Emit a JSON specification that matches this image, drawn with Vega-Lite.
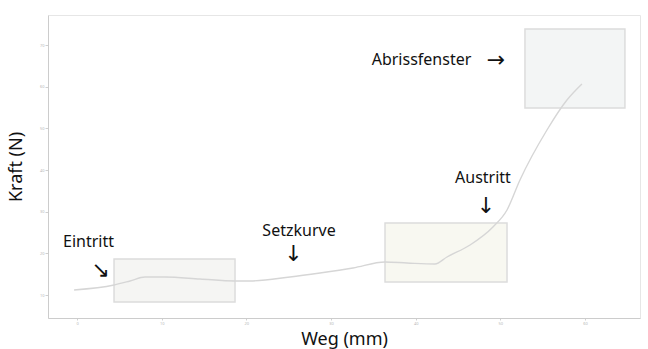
{
  "$schema": "https://vega.github.io/schema/vega-lite/v6.json",
  "width": 592,
  "height": 303,
  "autosize": {"type": "none"},
  "padding": {"left": 48, "top": 15, "right": 8, "bottom": 31},
  "background": "white",
  "config": {
    "view": {"stroke": "#e6e6e6", "strokeWidth": 1},
    "font": "Noto Sans",
    "axis": {"grid": false, "domainColor": "#cccccc", "tickColor": "#d0d0d0", "tickSize": 3, "labelColor": "#b8b8b8", "labelFontSize": 4, "titleFont": "Noto Sans", "titleFontSize": 18, "titleFontWeight": "normal", "titleColor": "#111111"}
  },
  "datasets": {
    "curve": [
      {"weg": -0.35, "kraft": 11.2},
      {"weg": 4.37, "kraft": 12.4},
      {"weg": 6.26, "kraft": 13.36},
      {"weg": 8.03, "kraft": 14.32},
      {"weg": 10.39, "kraft": 14.32},
      {"weg": 14.53, "kraft": 13.84},
      {"weg": 18.66, "kraft": 13.36},
      {"weg": 20.43, "kraft": 13.36},
      {"weg": 25.16, "kraft": 14.32},
      {"weg": 28.7, "kraft": 15.28},
      {"weg": 32.6, "kraft": 16.48},
      {"weg": 36.38, "kraft": 17.92},
      {"weg": 38.98, "kraft": 17.68},
      {"weg": 42.28, "kraft": 17.44},
      {"weg": 43.7, "kraft": 19.12},
      {"weg": 46.42, "kraft": 22.0},
      {"weg": 49.13, "kraft": 26.32},
      {"weg": 50.79, "kraft": 30.4},
      {"weg": 52.32, "kraft": 37.6},
      {"weg": 55.51, "kraft": 49.6},
      {"weg": 57.87, "kraft": 56.8},
      {"weg": 59.64, "kraft": 60.64}
    ],
    "windows": [
      {"name": "Eintritt", "x1": 4.37, "x2": 18.66, "y1": 8.32, "y2": 18.64, "fill": "#f5f5f3"},
      {"name": "Austritt", "x1": 36.38, "x2": 50.79, "y1": 13.12, "y2": 27.28, "fill": "#f8f8f1"},
      {"name": "Abriss", "x1": 52.91, "x2": 64.72, "y1": 54.88, "y2": 73.84, "fill": "#f3f5f5"}
    ],
    "labels": [
      {"text": "Abrissfenster", "x": 40.69, "y": 65.2},
      {"text": "Eintritt", "x": 1.36, "y": 21.59},
      {"text": "Setzkurve", "x": 26.22, "y": 24.23},
      {"text": "Austritt", "x": 47.95, "y": 36.81}
    ],
    "arrows": [
      {"text": "→", "x": 49.49, "y": 66.4},
      {"text": "↘", "x": 2.78, "y": 16.12},
      {"text": "↓", "x": 25.57, "y": 19.84},
      {"text": "↓", "x": 48.31, "y": 31.36}
    ]
  },
  "layer": [
    {
      "data": {"name": "windows"},
      "mark": {"type": "rect", "stroke": "#dcdcdc", "strokeWidth": 1.5},
      "encoding": {
        "x": {"field": "x1", "type": "quantitative", "scale": {"domain": [-3.43, 66.5], "nice": false, "zero": false}, "axis": {"title": "Weg (mm)", "values": [0, 10, 20, 30, 40, 50, 60], "titlePadding": 5, "labelPadding": 1, "tickSize": 2}},
        "x2": {"field": "x2"},
        "y": {"field": "y1", "type": "quantitative", "scale": {"domain": [4.48, 77.2], "nice": false, "zero": false}, "axis": {"title": "Kraft (N)", "values": [10, 20, 30, 40, 50, 60, 70], "titlePadding": 14, "labelPadding": 1}},
        "y2": {"field": "y2"},
        "fill": {"field": "fill", "type": "nominal", "scale": null}
      }
    },
    {
      "data": {"name": "curve"},
      "mark": {"type": "line", "color": "#d6d6d6", "strokeWidth": 1.4, "interpolate": "monotone"},
      "encoding": {
        "x": {"field": "weg", "type": "quantitative"},
        "y": {"field": "kraft", "type": "quantitative"}
      }
    },
    {
      "data": {"name": "labels"},
      "mark": {"type": "text", "fontSize": 16, "color": "#111111", "baseline": "alphabetic", "align": "center"},
      "encoding": {
        "x": {"field": "x", "type": "quantitative"},
        "y": {"field": "y", "type": "quantitative"},
        "text": {"field": "text"}
      }
    },
    {
      "data": {"name": "arrows"},
      "mark": {"type": "text", "fontSize": 22, "color": "#111111", "baseline": "middle", "align": "center", "font": "DejaVu Sans"},
      "encoding": {
        "x": {"field": "x", "type": "quantitative"},
        "y": {"field": "y", "type": "quantitative"},
        "text": {"field": "text"}
      }
    }
  ]
}
